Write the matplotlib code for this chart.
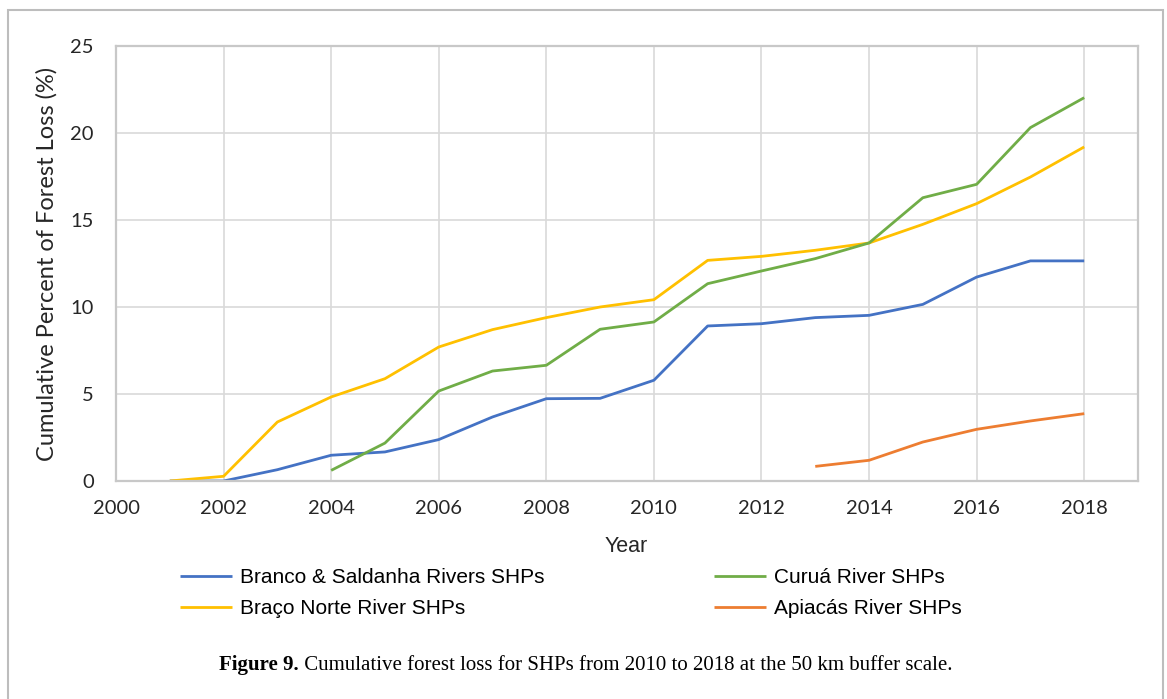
import numpy as np
import matplotlib.pyplot as plt
from matplotlib.patches import Rectangle

nan = np.nan
years = np.arange(2001, 2019)
branco = [0.0, 0.0, 0.65, 1.48, 1.67, 2.38, 3.68, 4.73, 4.75, 5.79,
          8.91, 9.04, 9.39, 9.52, 10.15, 11.72, 12.65, 12.65]
curua = [nan, nan, nan, 0.61, 2.18, 5.17, 6.32, 6.65, 8.72, 9.14,
         11.34, 12.07, 12.78, 13.68, 16.28, 17.05, 20.31, 22.03]
braco = [0.0, 0.27, 3.39, 4.83, 5.88, 7.70, 8.70, 9.39, 10.0, 10.42,
         12.68, 12.91, 13.26, 13.68, 14.75, 15.94, 17.47, 19.2]
apiacas = [nan] * 12 + [0.84, 1.19, 2.24, 2.97, 3.45, 3.87]

names = ["Branco & Saldanha Rivers SHPs", "Braço Norte River SHPs",
         "Curuá River SHPs", "Apiacás River SHPs"]
series = [branco, braco, curua, apiacas]
colors = ["#4472C4", "#FFC000", "#70AD47", "#ED7D31"]

W, H = 1167, 699
fig = plt.figure(figsize=(W / 100, H / 100), dpi=100)
ax = fig.add_axes([116 / W, 1 - 481 / H, (1138 - 116) / W, (481 - 46) / H])

handles = []
for s, c, n in zip(series, colors, names):
    h, = ax.plot(years, s, color=c, lw=2, label=n, solid_capstyle="butt")
    handles.append(h)

ax.set_xlim(2000, 2019)
ax.set_ylim(0, 25)
ax.set_xticks(np.arange(2000, 2019, 2))
ax.set_yticks(np.arange(0, 26, 5))
ax.grid(True, color="#D9D9D9", lw=1.2)
ax.set_axisbelow(True)
ax.tick_params(length=0, labelsize=14.5, colors="#262626")
ax.tick_params(axis="x", pad=14)
ax.tick_params(axis="y", pad=16)
for lab in ax.get_xticklabels() + ax.get_yticklabels():
    lab.set_family("Lato")
for sp in ax.spines.values():
    sp.set_color("#C8C8C8")
    sp.set_linewidth(1.6)

ax.set_ylabel("Cumulative Percent of Forest Loss (%)", fontsize=17,
              family="Lato", color="#262626")
ax.yaxis.set_label_coords((58 - 116) / (1138 - 116), 0.5)
fig.text(626 / W, 1 - 547 / H, "Year", ha="center", va="center",
         fontsize=15.5, family="Liberation Sans", color="#262626")

fig.legend(handles, names, ncol=2, loc="upper left",
           bbox_to_anchor=(180 / W, 1 - 568 / H), frameon=False,
           borderpad=0, borderaxespad=0,
           prop={"family": "Liberation Sans", "size": 15},
           handlelength=2.5, handletextpad=0.4, columnspacing=8.1,
           labelspacing=0.6)

# caption: bold "Figure 9." followed by plain text, centred as one line
cap_y = 1 - 665 / H
t1 = fig.text(0, cap_y, "Figure 9.", fontsize=15, family="Liberation Serif",
              weight="bold", va="center")
t2 = fig.text(0, cap_y, " Cumulative forest loss for SHPs from 2010 to 2018 at the 50 km buffer scale.",
              fontsize=15, family="Liberation Serif", va="center")
r = fig.canvas.get_renderer()
w1 = t1.get_window_extent(r).width
w2 = t2.get_window_extent(r).width
x0 = (586 - (w1 + w2) / 2) / W
t1.set_x(x0)
t2.set_x(x0 + w1 / W)

fig.patches.append(Rectangle((8 / W, -0.1), (1163 - 8) / W, 1.1 - 10 / H,
                             transform=fig.transFigure, fill=False,
                             edgecolor="#BDBDBD", lw=1.5))

fig.savefig("out.png", dpi=100)
